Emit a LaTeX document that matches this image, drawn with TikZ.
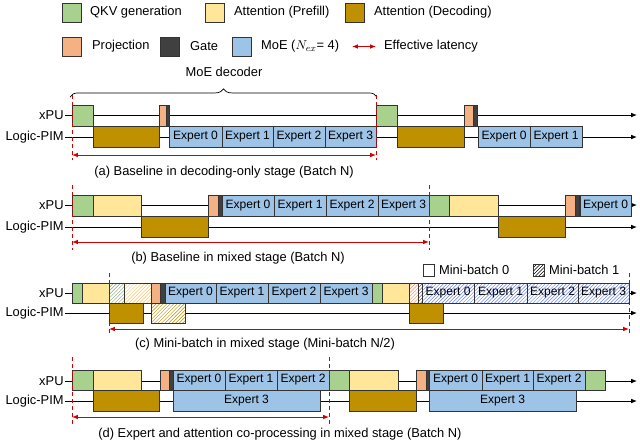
\documentclass[tikz,border=0pt]{standalone}
\usepackage{fontspec}
\setmainfont{Liberation Sans}
\usetikzlibrary{patterns,decorations.pathreplacing,arrows.meta}
\definecolor{qkv}{HTML}{A9D18E}
\definecolor{pre}{HTML}{FFE699}
\definecolor{dec}{HTML}{BF9000}
\definecolor{proj}{HTML}{F4B183}
\definecolor{gate}{HTML}{404040}
\definecolor{moe}{HTML}{9DC3E6}
\definecolor{lat}{HTML}{D00000}
\tikzset{
  b/.style={draw=black!80,line width=0.6pt},
  hat/.style={draw=black!80,line width=0.6pt,pattern=north east lines,pattern color=#1},
  tl/.style={line width=0.7pt,-{Latex[length=5pt,width=4pt]}},
  lab/.style={anchor=east,inner sep=1pt,font=\fontsize{11}{13}\selectfont},
  txt/.style={font=\fontsize{11}{13}\selectfont},
  ex/.style={font=\fontsize{10.3}{12}\selectfont,inner sep=0pt},
  eff/.style={lat,line width=0.8pt,{Latex[length=5pt,width=4pt]}-{Latex[length=5pt,width=4pt]}},
  rdash/.style={lat,line width=0.7pt,dashed},
}
% box: style, x1, x2, y1, y2, text
\newcommand\bx[6]{\draw[#1] (#2,#4) rectangle (#3,#5) node[midway,ex]{#6};}
\newcommand\hb[6]{\fill[white] (#2,#4) rectangle (#3,#5);\draw[hat=#1] (#2,#4) rectangle (#3,#5) node[midway,ex]{#6};}
\begin{document}
\begin{tikzpicture}[x=0.03cm,y=-0.03cm]
\useasboundingbox (0,0) rectangle (640,446);
% legend
\bx{b,fill=qkv}{62}{81}{3}{22}{}
\node[txt,anchor=west] (lq) at (86,12.5) {QKV generation};
\bx{b,fill=pre}{205}{224}{3}{22}{}
\node[txt,anchor=west] (lp) at (230,12.5) {Attention (Prefill)};
\bx{b,fill=dec}{345}{364}{3}{22}{}
\node[txt,anchor=west] (ld) at (370,12.5) {Attention (Decoding)};
\bx{b,fill=proj}{62}{81}{37}{56}{}
\node[txt,anchor=west] (lj) at (88,46.5) {Projection};
\bx{b,fill=gate}{160}{179}{37}{56}{}
\node[txt,anchor=west] (lg) at (186,46.5) {Gate};
\bx{b,fill=moe}{232}{251}{37}{56}{}
\node[txt,anchor=west] (lm) at (257,46.5) {MoE ($N_{ex}$= 4)};
\coordinate (la1) at (352,46.5);
\coordinate (la2) at (376,46.5);
\draw[eff] (la1) -- (la2);
\node[txt,anchor=west] (le) at (380,46.5) {Effective latency};
\node[txt] (md) at (224,72) {MoE decoder};
\draw[decorate,decoration={brace,amplitude=7pt},line width=0.6pt] (70,97) -- (377,97);
% axes
\foreach \n/\y in {a/115,b/205,c/293,d/381}{
  \node[lab] (x\n) at (65,\y) {xPU};
  \coordinate (xe\n) at (637,\y);
  \draw[tl] (x\n.east) -- (xe\n);
}
\foreach \n/\y in {a/137,b/227,c/313,d/401}{
  \node[lab] (p\n) at (65,\y) {Logic-PIM};
  \coordinate (pe\n) at (637,\y);
  \draw[tl] (p\n.east) -- (pe\n);
}
% (a)
\bx{b,fill=qkv}{72}{93}{105}{126}{}
\bx{b,fill=dec}{93}{159}{126}{147}{}
\bx{b,fill=proj}{159}{166}{105}{126}{}
\bx{b,fill=gate}{166}{169}{105}{126}{}
\bx{b,fill=moe}{169}{222}{126}{147}{Expert 0}
\bx{b,fill=moe}{222}{273}{126}{147}{Expert 1}
\bx{b,fill=moe}{273}{325}{126}{147}{Expert 2}
\bx{b,fill=moe}{325}{376}{126}{147}{Expert 3}
\bx{b,fill=qkv}{376}{397}{105}{126}{}
\bx{b,fill=dec}{397}{464}{126}{147}{}
\bx{b,fill=proj}{464}{473}{105}{126}{}
\bx{b,fill=gate}{473}{477}{105}{126}{}
\bx{b,fill=moe}{478}{530}{126}{147}{Expert 0}
\bx{b,fill=moe}{530}{582}{126}{147}{Expert 1}
\draw[rdash] (72,95) -- (72,160);
\draw[rdash] (376,95) -- (376,160);
\coordinate (a1) at (72,155); \coordinate (a2) at (376,155);
\draw[eff] (a1) -- (a2);
\node[txt] (ca) at (224,172) {(a) Baseline in decoding-only stage (Batch N)};
% (b)
\bx{b,fill=qkv}{72}{93}{195}{216}{}
\bx{b,fill=pre}{93}{141}{195}{216}{}
\bx{b,fill=dec}{141}{208}{216}{237}{}
\bx{b,fill=proj}{208}{218}{195}{216}{}
\bx{b,fill=gate}{218}{222}{195}{216}{}
\bx{b,fill=moe}{222}{274}{195}{216}{Expert 0}
\bx{b,fill=moe}{274}{326}{195}{216}{Expert 1}
\bx{b,fill=moe}{326}{378}{195}{216}{Expert 2}
\bx{b,fill=moe}{378}{429}{195}{216}{Expert 3}
\bx{b,fill=qkv}{429}{449}{195}{216}{}
\bx{b,fill=pre}{449}{498}{195}{216}{}
\bx{b,fill=dec}{498}{565}{216}{237}{}
\bx{b,fill=proj}{565}{575}{195}{216}{}
\bx{b,fill=gate}{575}{579}{195}{216}{}
\bx{b,fill=moe}{580}{631}{195}{216}{Expert 0}
\draw[rdash] (72,185) -- (72,250);
\draw[rdash] (429,185) -- (429,250);
\coordinate (b1) at (72,242); \coordinate (b2) at (429,242);
\draw[eff] (b1) -- (b2);
\node[txt] (cb) at (238,258) {(b) Baseline in mixed stage (Batch N)};
% mini-batch legend
\bx{b,fill=white}{423}{434}{264}{276}{}
\node[txt,anchor=west] (m0) at (435,270) {Mini-batch 0};
\hb{black}{533}{544}{264}{276}{}
\node[txt,anchor=west] (m1) at (545,270) {Mini-batch 1};
% (c)
\bx{b,fill=qkv}{72}{82}{283}{303}{}
\bx{b,fill=pre}{82}{109}{283}{303}{}
\hb{qkv!80!black}{109}{124}{283}{303}{}
\hb{pre!70!orange}{124}{151}{283}{303}{}
\bx{b,fill=proj}{151}{160}{283}{303}{}
\bx{b,fill=gate}{160}{165}{283}{303}{}
\bx{b,fill=moe}{165}{216}{283}{303}{Expert 0}
\bx{b,fill=moe}{216}{268}{283}{303}{Expert 1}
\bx{b,fill=moe}{268}{320}{283}{303}{Expert 2}
\bx{b,fill=moe}{320}{372}{283}{303}{Expert 3}
\bx{b,fill=qkv}{372}{382}{283}{303}{}
\bx{b,fill=pre}{382}{409}{283}{303}{}
\hb{proj!80!red}{409}{418}{283}{303}{}
\hb{gate}{418}{422}{283}{303}{}
\hb{moe!70!blue}{422}{474}{283}{303}{Expert 0}
\hb{moe!70!blue}{474}{527}{283}{303}{Expert 1}
\hb{moe!70!blue}{527}{578}{283}{303}{Expert 2}
\hb{moe!70!blue}{578}{629}{283}{303}{Expert 3}
\bx{b,fill=dec}{109}{143}{303}{323}{}
\hb{dec}{151}{185}{303}{323}{}
\bx{b,fill=dec}{409}{443}{303}{323}{}
\draw[rdash] (109,273) -- (109,335);
\draw[rdash] (629,273) -- (629,335);
\coordinate (c1) at (109,329); \coordinate (c2) at (629,329);
\draw[eff] (c1) -- (c2);
\node[txt] (cc) at (265,344) {(c) Mini-batch in mixed stage (Mini-batch N/2)};
% (d)
\bx{b,fill=qkv}{72}{93}{370}{390}{}
\bx{b,fill=pre}{93}{141}{370}{390}{}
\bx{b,fill=dec}{93}{159}{390}{411}{}
\bx{b,fill=proj}{160}{169}{370}{390}{}
\bx{b,fill=gate}{169}{173}{370}{390}{}
\bx{b,fill=moe}{173}{225}{370}{390}{Expert 0}
\bx{b,fill=moe}{225}{277}{370}{390}{Expert 1}
\bx{b,fill=moe}{277}{329}{370}{390}{Expert 2}
\bx{b,fill=moe}{173}{320}{390}{411}{Expert 3}
\bx{b,fill=qkv}{329}{349}{370}{390}{}
\bx{b,fill=pre}{349}{398}{370}{390}{}
\bx{b,fill=dec}{349}{416}{390}{411}{}
\bx{b,fill=proj}{416}{426}{370}{390}{}
\bx{b,fill=gate}{426}{429}{370}{390}{}
\bx{b,fill=moe}{429}{482}{370}{390}{Expert 0}
\bx{b,fill=moe}{482}{533}{370}{390}{Expert 1}
\bx{b,fill=moe}{533}{585}{370}{390}{Expert 2}
\bx{b,fill=qkv}{585}{605}{370}{390}{}
\bx{b,fill=moe}{429}{576}{390}{411}{Expert 3}
\draw[rdash] (72,357) -- (72,424);
\draw[rdash] (329,357) -- (329,424);
\coordinate (d1) at (72,417); \coordinate (d2) at (329,417);
\draw[eff] (d1) -- (d2);
\node[txt] (cd) at (280,434) {(d) Expert and attention co-processing in mixed stage (Batch N)};
\end{tikzpicture}
\end{document}
